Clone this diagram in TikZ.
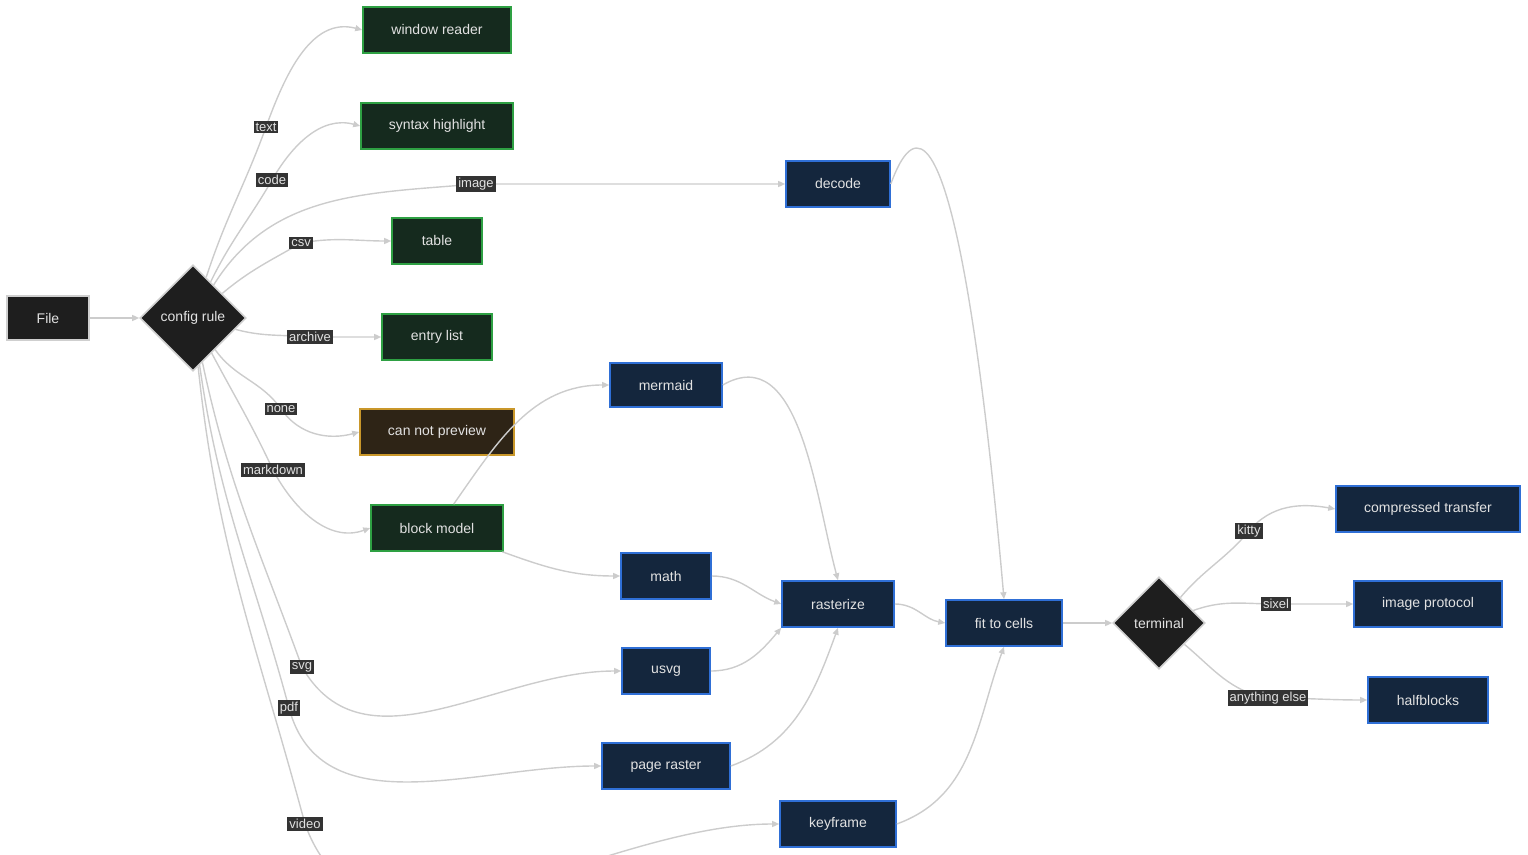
\documentclass[tikz,border=0pt]{standalone}
\usepackage{fontspec}
\setmainfont{Liberation Sans}
\usetikzlibrary{shapes.geometric,arrows.meta}
\definecolor{edge}{HTML}{CCCCCC}
\definecolor{txt}{HTML}{E2E2E2}
\definecolor{gfill}{HTML}{152A1E}\definecolor{gline}{HTML}{2EA043}
\definecolor{bfill}{HTML}{14263D}\definecolor{bline}{HTML}{2F6FD6}
\definecolor{ofill}{HTML}{2E2416}\definecolor{oline}{HTML}{C9972A}
\definecolor{dfill}{HTML}{1E1E1E}\definecolor{dline}{HTML}{CFCFCF}
\definecolor{lbg}{HTML}{333333}
\begin{document}
\begin{tikzpicture}[x=0.5pt,y=0.5pt,
 box/.style={draw,line width=0.8pt,text=txt,font=\fontsize{7}{8}\selectfont,inner sep=0pt},
 g/.style={box,fill=gfill,draw=gline},
 b/.style={box,fill=bfill,draw=bline},
 o/.style={box,fill=ofill,draw=oline},
 d/.style={box,fill=dfill,draw=dline},
 dia/.style={d,diamond,minimum width=106pt*0.5*2,minimum height=106pt*0.5*2},
 lab/.style={fill=lbg,text=txt,font=\fontsize{6.5}{7}\selectfont,inner sep=1pt},
 e/.style={draw=edge,line width=0.7pt,-{Triangle[width=3pt,length=3.5pt]}}]
\useasboundingbox (0,0) rectangle (1528,-855);
\newcommand{\bx}[6]{\node[#1,minimum width=#4*0.5pt,minimum height=#5*0.5pt] (#2) at (#3) {#6};}
\bx{d}{file}{48,-318}{82}{44}{File}
\node[d,diamond,minimum width=53pt,minimum height=53pt] (cfg) at (193,-318) {config rule};
\bx{g}{wr}{437,-30}{148}{46}{window reader}
\bx{g}{sh}{437,-126}{152}{46}{syntax highlight}
\bx{b}{dec}{838,-184}{104}{46}{decode}
\bx{g}{tab}{437,-241}{90}{46}{table}
\bx{g}{el}{437,-337}{110}{46}{entry list}
\bx{b}{mer}{666,-385}{112}{44}{mermaid}
\bx{o}{cnp}{437,-432}{154}{46}{can not preview}
\bx{g}{bm}{437,-528}{132}{46}{block model}
\bx{b}{math}{666,-576}{90}{46}{math}
\bx{b}{ras}{838,-604}{112}{46}{rasterize}
\bx{b}{fit}{1004,-623}{116}{46}{fit to cells}
\node[d,diamond,minimum width=46pt,minimum height=46pt] (term) at (1159,-623) {terminal};
\bx{b}{ct}{1428,-509}{184}{46}{compressed transfer}
\bx{b}{ip}{1428,-604}{148}{46}{image protocol}
\bx{b}{hb}{1428,-700}{120}{46}{halfblocks}
\bx{b}{usvg}{666,-671}{88}{46}{usvg}
\bx{b}{pr}{666,-766}{128}{46}{page raster}
\bx{b}{kf}{838,-824}{116}{46}{keyframe}
\coordinate (Ltext) at (266,-127);
\coordinate (Lcode) at (272,-180);
\coordinate (Limg) at (476,-184);
\coordinate (Lcsv) at (301,-243);
\coordinate (Larch) at (310,-337);
\coordinate (Lnone) at (281,-409);
\coordinate (Lmd) at (273,-470);
\coordinate (Lsvg) at (302,-667);
\coordinate (Lpdf) at (289,-708);
\coordinate (Lvid) at (305,-824);
\coordinate (Lkit) at (1249,-531);
\coordinate (Lsix) at (1276,-604);
\coordinate (Lany) at (1268,-698);
\draw[e] (file) -- (cfg);
\draw[e] (cfg) to[out=72,in=250] (Ltext) to[out=70,in=165] (wr.west);
\draw[e] (cfg) to[out=64,in=240] (Lcode) to[out=60,in=165] (sh.west);
\draw[e] (cfg) to[out=58,in=185] (Limg) to[out=0,in=180] (dec.west);
\draw[e] (cfg) to[out=40,in=210] (Lcsv) to[out=10,in=180] (tab.west);
\draw[e] (cfg) to[out=-15,in=175] (Larch) to[out=0,in=180] (el.west);
\draw[e] (cfg) to[out=-55,in=125] (Lnone) to[out=-55,in=195] (cnp.west);
\draw[e] (cfg) to[out=-62,in=115] (Lmd) to[out=-62,in=200] (bm.west);
\draw[e] (cfg) to[out=-78,in=110] (Lsvg) to[out=-60,in=180] (usvg.west);
\draw[e] (cfg) to[out=-82,in=105] (Lpdf) to[out=-75,in=180] (pr.west);
\draw[e] (cfg) to[out=-84,in=105] (Lvid) to[out=-70,in=180] (kf.west);
\draw[e] (bm) to[out=55,in=180] (mer.west);
\draw[e] (bm) to[out=-20,in=180] (math.west);
\draw[e] (mer.east) to[out=30,in=105] (ras.north);
\draw[e] (math.east) to[out=0,in=160] (ras.west);
\draw[e] (usvg.east) to[out=0,in=230] (ras.south west);
\draw[e] (pr.east) to[out=20,in=250] (ras.south);
\draw[e] (dec.east) to[out=70,in=95] (fit.north);
\draw[e] (ras.east) to[out=0,in=170] (fit.west);
\draw[e] (kf.east) to[out=20,in=250] (fit.south);
\draw[e] (fit) -- (term);
\draw[e] (term) to[out=50,in=230] (Lkit) to[out=50,in=170] (ct.west);
\draw[e] (term) to[out=20,in=180] (Lsix) -- (ip.west);
\draw[e] (term) to[out=-40,in=170] (Lany) to[out=0,in=180] (hb.west);
\foreach \c/\t in {Ltext/text,Lcode/code,Limg/image,Lcsv/csv / tsv,Larch/archive,Lnone/none,Lmd/markdown,Lsvg/svg,Lpdf/pdf,Lvid/video,Lkit/kitty,Lsix/sixel / iTerm2,Lany/anything else}
  \node[lab] at (\c) {\t};
\end{tikzpicture}
\end{document}
